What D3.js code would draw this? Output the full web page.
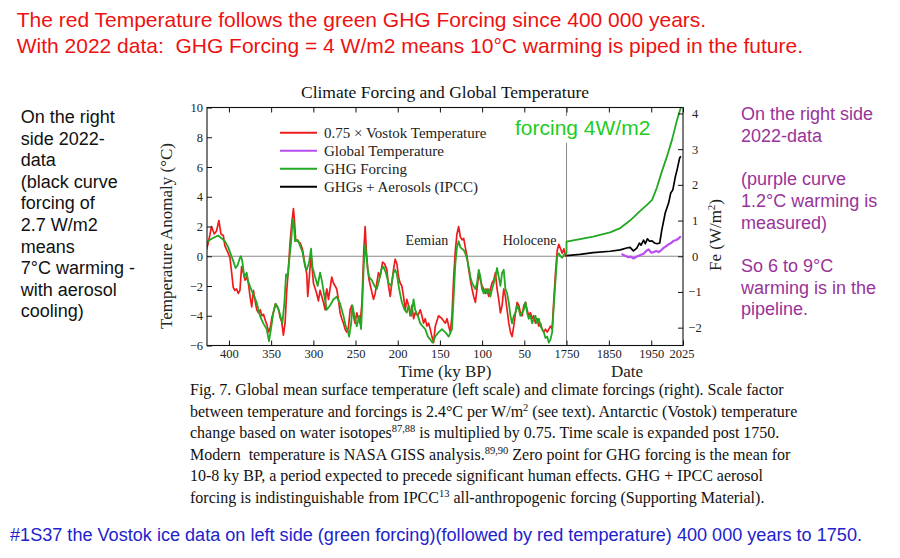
<!DOCTYPE html>
<html><head><meta charset="utf-8">
<script src="https://cdn.jsdelivr.net/npm/d3@7"></script>
<style>
body{margin:0;background:#fff}
svg{display:block}
text{white-space:pre}
</style>
</head><body>
<svg id="c" width="900" height="558"></svg>
<script>
// ---------- DATA ----------
// 0.75 x Vostok temperature: [ky BP, °C]
const vostokTemp = [[426.5,0.45],[424.5,0.9],[420.6,2.0],[417.4,1.5],[414.7,1.7],[411.9,2.4],[409.5,1.5],[406.7,1.4],[404.8,0.7],[401.6,0.3],
[398.8,-0.1],[396.8,-1.1],[394.9,-2.1],[392.9,-2.3],[390.9,-2.2],[388.9,-2.5],[387,-2.3],[385,-0.7],[383,-1.1],[381,-1.6],
[379,-1.4],[377,-1.8],[375,-2.7],[373,-3.4],[371,-2.3],[369,-3.0],[367,-3.6],[365,-3.8],[363,-3.6],[361,-4.0],
[359,-3.9],[357,-4.3],[355,-4.6],[353,-5.1],[351,-4.8],[349,-4.1],[347,-3.7],[345,-3.2],[343,-3.4],[341,-3.6],
[339.5,-4.1],[337.5,-4.4],[335.5,-5.3],[333.5,-4.5],[331.5,-2.3],[329.6,-0.9],[327.6,0.9],[325.6,2.2],[323.6,3.2],[322.5,2.5],
[320.9,1.1],[318.5,1.0],[315.7,0.9],[313,0.5],[310.6,-0.3],[307.8,-1.2],[306.6,-2.7],[305,-1.6],[302.7,0.1],[299.9,-1.8],
[296,-2.5],[294,-3.0],[292,-2.3],[290,-2.7],[288,-3.1],[286,-3.6],[285,-2.5],[284,-2.2],[282,-2.9],[278.2,-1.4],
[276.2,-1.8],[274.2,-2.0],[272.3,-2.2],[270.3,-2.9],[268.3,-3.8],[266.3,-4.2],[264.3,-4.5],[262.4,-4.9],[260.4,-5.1],[258.4,-4.8],
[256.4,-3.6],[254.4,-3.3],[252.5,-4.0],[250.5,-4.5],[248.5,-3.8],[246.5,-4.2],[244.6,-4.5],[242.6,-3.3],[241.8,-2.2],[240.2,0.4],
[238.6,2.0],[237,0.2],[235.5,-0.9],[233.9,-1.6],[231.5,-2.2],[228.7,-2.9],[226.7,-2.5],[224.8,-1.8],[222.8,-1.1],[220.8,-1.4],
[218,-0.4],[215.7,-0.5],[212.9,-0.9],[210.9,-2.0],[208.9,-2.7],[207,-1.8],[205,-0.9],[203,-0.2],[201,-0.5],[199,-1.4],
[197.1,-1.8],[195.1,-2.0],[193.1,-2.7],[191.1,-3.6],[189.2,-2.9],[187.2,-3.3],[185.2,-4.0],[183.2,-3.3],[181.2,-4.2],[179.3,-3.8],
[176.1,-4.0],[173.3,-3.6],[171.3,-4.0],[169.4,-4.5],[167.4,-4.2],[165.4,-4.7],[163.4,-4.5],[161.5,-4.9],[159.5,-5.4],[157.5,-5.8],
[155.5,-4.7],[151.6,-4.0],[147.6,-4.2],[143.6,-4.5],[141.6,-4.2],[139.6,-4.7],[137.7,-5.1],[135.7,-4.0],[133.7,-1.4],[131.7,0.4],
[129.8,1.5],[127.8,2.0],[125.8,1.3],[123.8,1.1],[121.8,1.2],[119.9,0.6],[117.9,0.0],[115.9,-0.9],[113.9,-1.6],[111.9,-2.2],
[110,-2.7],[108,-3.1],[106,-2.2],[104,-1.1],[102,-1.6],[100.1,-2.0],[98.1,-2.2],[96.1,-2.5],[94.1,-2.2],[92.2,-2.7],
[90.2,-2.2],[88.2,-1.8],[86.2,-1.6],[84.2,-1.1],[82.3,-2.2],[80.3,-2.9],[78.3,-3.8],[76.3,-3.3],[74.4,-2.2],[72.4,-2.7],
[70.4,-3.6],[68.4,-4.5],[66.4,-5.1],[64.5,-5.4],[62.5,-4.7],[60.5,-3.8],[58.5,-3.1],[56.5,-3.3],[54.6,-3.8],[52.6,-4.0],
[50.6,-3.3],[48.6,-3.1],[46.7,-3.6],[44.7,-4.0],[42.7,-3.8],[40.7,-4.2],[38.7,-4.0],[36.8,-4.5],[34.8,-4.2],[32.8,-4.7],
[30.8,-4.5],[28.9,-4.9],[26.9,-5.1],[24.9,-4.9],[22.9,-5.1],[20.9,-4.9],[19,-4.7],[17,-4.9],[15,-2.9],[13,-1.1],
[11,0.4],[9.1,0.8],[7.1,0.5],[5.1,0.2],[3.1,0.5],[1.2,0.0],[0,0.1]];

// GHG forcing, paleo part: [ky BP, W/m²]
const ghgPaleo = [[426.5,0.38],[422.6,0.46],[416.6,0.54],[412.7,0.58],[408.7,0.5],[404.8,0.42],[400.8,0.25],[397.6,0.04],[394.9,-0.13],[392.1,-0.33],
[389.7,-0.25],[387,-0.04],[385.8,0],[384.2,-0.13],[381.8,-0.58],[379,-0.46],[377.1,-0.71],[373.1,-0.96],[369.9,-1.13],[367.2,-1.29],
[363.2,-1.67],[359.3,-1.88],[355.3,-2.04],[352.5,-2.38],[350.2,-2.04],[347.4,-1.58],[344.6,-1.33],[342.2,-1.42],[339.5,-1.63],[336.7,-1.88],
[334.3,-1.29],[332.3,-0.5],[330.4,-0.58],[328.8,-0.17],[326.4,0.38],[324.4,1.04],[323.2,0.92],[321.7,0.42],[318.5,0.46],[315.7,0.29],
[313,0.13],[309.8,-0.29],[307.8,-0.38],[305,-0.17],[302.7,0.21],[301.1,-0.29],[297.9,-0.58],[294.8,-0.83],[292,-0.46],[290,-0.67],
[286.8,-1.13],[284.1,-1.5],[280.2,-1.38],[276.2,-1.21],[272.3,-1.13],[268.3,-1.33],[264.3,-1.67],[261.6,-1.96],[259.2,-2.08],[257.6,-2.25],
[255.2,-1.88],[253.7,-1.38],[251.3,-1.67],[248.5,-1.96],[245.7,-1.67],[243.4,-2.04],[241.8,-1.21],[240.2,-0.25],[238.6,0.33],[237,0],
[235.5,-0.38],[233.9,-0.58],[230.7,-0.67],[227.5,-0.83],[224.8,-0.92],[222,-0.67],[219.6,-0.38],[216.9,-0.29],[214.1,-0.46],[210.9,-0.75],
[207.8,-0.83],[205,-0.46],[203,-0.38],[201,-0.5],[198.3,-0.92],[195.1,-1.29],[191.9,-1.5],[189.2,-1.58],[187.2,-1.38],[184,-1.67],
[181.2,-1.21],[179.3,-1.5],[176.1,-1.67],[173.3,-1.88],[170.6,-1.96],[167.4,-2.04],[164.2,-2.25],[161.5,-2.33],[158.7,-2.42],[155.5,-2.25],
[151.6,-2.13],[147.6,-2.04],[143.6,-2.13],[139.6,-2.25],[135.7,-2.04],[133.7,-1.13],[131.7,-0.21],[129.8,0.25],[127.8,0.42],[125.8,0.25],
[123.8,0.21],[121.8,0.17],[119.9,0.08],[117.9,-0.08],[115.9,-0.29],[113.9,-0.58],[111.9,-0.75],[110,-0.83],[108,-0.92],[106,-0.75],
[104,-0.38],[102,-0.58],[100.1,-0.92],[98.1,-1.04],[96.1,-0.92],[94.1,-1.04],[92.2,-0.92],[90.2,-1.13],[88.2,-0.92],[86.2,-0.75],
[84.2,-0.58],[82.3,-0.33],[80.3,-0.58],[78.3,-0.83],[76.3,-0.46],[74.4,-0.38],[72.4,-0.92],[70.4,-1.04],[68.4,-1.29],[66.4,-1.67],
[64.5,-1.88],[62.5,-1.67],[60.5,-1.58],[58.5,-1.38],[56.5,-1.5],[54.6,-1.67],[52.6,-1.58],[50.6,-1.5],[48.6,-1.29],[46.7,-1.58],
[44.7,-1.75],[42.7,-1.67],[40.7,-1.88],[38.7,-1.75],[36.8,-1.67],[34.8,-1.88],[32.8,-1.75],[30.8,-1.96],[28.9,-2.04],[26.9,-2.13],
[24.9,-2.29],[22.9,-2.25],[20.9,-2.42],[19,-2.33],[17,-2.13],[15,-1.38],[13,-0.67],[11,0],[9.1,0.08],[7.1,0],
[5.1,-0.04],[3.1,0.04],[1.2,0.08],[0,0.1]];

// GHG forcing, modern part: [year, W/m²]
const ghgModern = [[1750,0.41],[1782,0.48],[1813,0.55],[1853,0.67],[1877,0.79],[1900,1.0],[1924,1.27],[1940,1.44],[1952,1.58],[1963,1.91],[1975,2.37],[1987,2.79],[1999,3.26],[2011,3.82],[2022,4.25]];

// GHGs + aerosols (IPCC): [year, W/m²]
const ghgAerosol = [[1750,0.02],[1782,0.05],[1813,0.1],[1853,0.14],[1877,0.18],[1892,0.23],[1900,0.25],[1908,0.15],[1916,0.23],[1922,0.37],[1926,0.31],[1932,0.45],[1936,0.35],[1941,0.49],[1946,0.42],[1952,0.43],[1958,0.37],[1964,0.35],[1970,0.37],[1975,0.74],[1983,1.21],[1991,1.49],[1996,1.77],[2001,1.86],[2007,2.23],[2011,2.42],[2017,2.75],[2020,2.8]];

// Global temperature (GISS): [year, °C]
const globalTemp = [[1880,0.15],[1888,0.03],[1896,-0.06],[1902,-0.03],[1908,-0.15],[1915,-0.03],[1920,0.03],[1926,0.1],[1932,0.17],[1938,0.35],[1944,0.46],[1950,0.24],[1956,0.28],[1962,0.35],[1968,0.28],[1974,0.42],[1980,0.58],[1986,0.69],[1991,0.8],[1996,0.87],[2002,1.02],[2009,1.09],[2014,1.18],[2018,1.3],[2020,1.25]];

// ticks
const kyTicks = [400,350,300,250,200,150,100,50];
const dateTicks = [1750,1850,1950,2025];
const tempTicks = [-6,-4,-2,0,2,4,6,8,10];
const forcingTicks = [-2,-1,0,1,2,3,4];
const scaleFactor = 2.4; // °C per W/m²

// text
const headLines = ["The red Temperature follows the green GHG Forcing since 400 000 years.",
  "With 2022 data:  GHG Forcing = 4 W/m2 means 10°C warming is piped in the future."];
const leftNote = ["On the right","side 2022-","data","(black curve","forcing of","2.7 W/m2","means","7°C warming -","with aerosol","cooling)"];
const rightNote = ["On the right side","2022-data","","(purple curve","1.2°C warming is","measured)","","So 6 to 9°C","warming is in the","pipeline."];
const legendItems = [["0.75 × Vostok Temperature","#ee1c1c"],["Global Temperature","#bb4ef0"],["GHG Forcing","#22a822"],["GHGs + Aerosols (IPCC)","#000000"]];
const caption = [
 [["Fig. 7. Global mean surface temperature (left scale) and climate forcings (right). Scale factor"]],
 [["between temperature and forcings is 2.4°C per W/m"],["2",1],[" (see text). Antarctic (Vostok) temperature"]],
 [["change based on water isotopes"],["87,88",1],[" is multiplied by 0.75. Time scale is expanded post 1750."]],
 [["Modern  temperature is NASA GISS analysis."],["89,90",1],[" Zero point for GHG forcing is the mean for"]],
 [["10-8 ky BP, a period expected to precede significant human effects. GHG + IPCC aerosol"]],
 [["forcing is indistinguishable from IPCC"],["13",1],[" all-anthropogenic forcing (Supporting Material)."]]
];
const footer = "#1S37 the Vostok ice data on left side (green forcing)(followed by red temperature) 400 000 years to 1750.";

// ---------- DRAW ----------
const SANS = "'Liberation Sans', Arial, sans-serif";
const SERIF = "'Liberation Serif', 'Times New Roman', serif";
const svg = d3.select("#c");
svg.append("rect").attr("width",900).attr("height",558).attr("fill","#fff");

const L = 207, R = 683, T = 107.5, B = 345.5, SPLIT = 566.5;
const xKy = d3.scaleLinear().domain([426,0]).range([L,SPLIT]);
const xDate = d3.scaleLinear().domain([1750,2025]).range([SPLIT,R]);
const yT = d3.scaleLinear().domain([-6,10]).range([B,T]);
const yF = d3.scaleLinear().domain([-6/scaleFactor,10/scaleFactor]).range([B,T]);

svg.append("defs").append("clipPath").attr("id","clip").append("rect")
  .attr("x",L).attr("y",T).attr("width",R-L).attr("height",B-T);

// headline
headLines.forEach((s,i)=>svg.append("text").attr("x",16.7).attr("y",27.3+i*26)
  .attr("font-family",SANS).attr("font-size",21).attr("fill","#ee1111").text(s));

// chart title
svg.append("text").attr("x",(L+R)/2).attr("y",98).attr("text-anchor","middle")
  .attr("font-family",SERIF).attr("font-size",17.5).attr("fill","#111").text("Climate Forcing and Global Temperature");

// zero and split reference lines
svg.append("line").attr("x1",L).attr("x2",R).attr("y1",yT(0)).attr("y2",yT(0)).attr("stroke","#8a8a8a").attr("stroke-width",1);
svg.append("line").attr("x1",SPLIT).attr("x2",SPLIT).attr("y1",T).attr("y2",B).attr("stroke","#8a8a8a").attr("stroke-width",1);

const plot = svg.append("g").attr("clip-path","url(#clip)");
const line = d3.line().x(d=>d[0]).y(d=>d[1]);

const redPts = vostokTemp.map(d=>[xKy(d[0]),yT(d[1])]);
const greenPts = ghgPaleo.map(d=>[xKy(d[0]),yF(d[1])]).concat(ghgModern.map(d=>[xDate(d[0]),yF(d[1])]));
const blackPts = ghgAerosol.map(d=>[xDate(d[0]),yF(d[1])]);
const purplePts = globalTemp.map(d=>[xDate(d[0]),yT(d[1])]);

plot.append("path").attr("d",line(redPts)).attr("fill","none").attr("stroke",legendItems[0][1]).attr("stroke-width",1.7).attr("stroke-linejoin","round");
plot.append("path").attr("d",line(greenPts)).attr("fill","none").attr("stroke",legendItems[2][1]).attr("stroke-width",1.8).attr("stroke-linejoin","round");
plot.append("path").attr("d",line(blackPts)).attr("fill","none").attr("stroke",legendItems[3][1]).attr("stroke-width",1.7).attr("stroke-linejoin","round");
plot.append("path").attr("d",line(purplePts)).attr("fill","none").attr("stroke",legendItems[1][1]).attr("stroke-width",2.2).attr("stroke-linejoin","round");

// frame
svg.append("rect").attr("x",L).attr("y",T).attr("width",R-L).attr("height",B-T).attr("fill","none").attr("stroke","#111").attr("stroke-width",1.1);

// axes
function styleAxis(g){
  g.select(".domain").remove();
  g.selectAll("line").attr("stroke","#111");
  g.selectAll("text").attr("font-family",SERIF).attr("font-size",12.5).attr("fill","#222");
}
svg.append("g").attr("transform",`translate(0,${B})`)
  .call(d3.axisBottom(xKy).tickValues(kyTicks).tickSize(-5).tickPadding(4)).call(styleAxis);
svg.append("g").attr("transform",`translate(0,${B})`)
  .call(d3.axisBottom(xDate).tickValues(dateTicks).tickFormat(d3.format("d")).tickSize(-5).tickPadding(4)).call(styleAxis)
  .selectAll(".tick").filter(d=>d===2025).select("text").attr("x",-1.5);
svg.append("g").attr("transform",`translate(0,${T})`)
  .call(d3.axisTop(xKy).tickValues(kyTicks).tickSize(-5).tickFormat("")).call(styleAxis);
svg.append("g").attr("transform",`translate(0,${T})`)
  .call(d3.axisTop(xDate).tickValues(dateTicks).tickSize(-5).tickFormat("")).call(styleAxis);
svg.append("g").attr("transform",`translate(${L},0)`)
  .call(d3.axisLeft(yT).tickValues(tempTicks).tickSize(-5).tickPadding(4)).call(styleAxis);
const ra = svg.append("g").attr("transform",`translate(${R},0)`)
  .call(d3.axisRight(yF).tickValues(forcingTicks).tickFormat(d3.format("d")).tickSize(-5).tickPadding(12)).call(styleAxis);
ra.selectAll("text").attr("text-anchor","middle");

// axis titles
svg.append("text").attr("transform",`translate(172,236) rotate(-90)`).attr("text-anchor","middle")
  .attr("font-family",SERIF).attr("font-size",17).attr("fill","#222").text("Temperature Anomaly (°C)");
const fe = svg.append("text").attr("transform",`translate(721,235) rotate(-90)`).attr("text-anchor","middle")
  .attr("font-family",SERIF).attr("font-size",17).attr("fill","#222");
fe.append("tspan").text("Fe (W/m");
fe.append("tspan").attr("font-size",11).attr("dy",-6).text("2");
fe.append("tspan").attr("dy",6).text(")");
svg.append("text").attr("x",(xKy(200)+xKy(100))/2+5).attr("y",376.5).attr("text-anchor","middle")
  .attr("font-family",SERIF).attr("font-size",17).attr("fill","#222").text("Time (ky BP)");
svg.append("text").attr("x",(xDate(1850)+xDate(1950))/2-3).attr("y",376.5).attr("text-anchor","middle")
  .attr("font-family",SERIF).attr("font-size",17).attr("fill","#222").text("Date");

// period labels
svg.append("text").attr("x",xKy(140)).attr("y",yT(0)-11).attr("text-anchor","end")
  .attr("font-family",SERIF).attr("font-size",14).attr("fill","#222").text("Eemian");
svg.append("text").attr("x",xKy(12)).attr("y",yT(0)-11).attr("text-anchor","end")
  .attr("font-family",SERIF).attr("font-size",14).attr("fill","#222").text("Holocene");

// legend
const lg = svg.append("g");
legendItems.forEach((d,i)=>{
  const y = 132.7 + i*18;
  lg.append("line").attr("x1",280).attr("x2",317).attr("y1",y).attr("y2",y).attr("stroke",d[1]).attr("stroke-width",2);
  lg.append("text").attr("x",324).attr("y",y+5).attr("font-family",SERIF).attr("font-size",15).attr("fill","#222").text(d[0]);
});

// forcing annotation with white backing
const ann = svg.append("text").attr("x",515).attr("y",135).attr("font-family",SANS).attr("font-size",21)
  .attr("fill","#22cc22").text("forcing 4W/m2");
const bb = ann.node().getBBox();
svg.insert("rect", function(){return ann.node();}).attr("x",bb.x-3).attr("y",bb.y).attr("width",bb.width+6).attr("height",143-bb.y).attr("fill","#fff");

// side notes
leftNote.forEach((s,i)=>svg.append("text").attr("x",20.7).attr("y",123+i*21.6)
  .attr("font-family",SANS).attr("font-size",18).attr("fill","#111").text(s));
rightNote.forEach((s,i)=>{ if(!s) return; svg.append("text").attr("x",741).attr("y",120+i*21.7)
  .attr("font-family",SANS).attr("font-size",18).attr("fill","#993399").text(s);});

// caption
caption.forEach((segs,i)=>{
  const t = svg.append("text").attr("x",190).attr("y",395+i*21.5).attr("font-family",SERIF).attr("font-size",16).attr("fill","#111");
  let up = false;
  segs.forEach(s=>{
    const sp = t.append("tspan").text(s[0]);
    if(s[1]){ sp.attr("font-size",10.5).attr("dy",-6); up = true; }
    else if(up){ sp.attr("dy",6); up = false; }
  });
});

// footer
svg.append("text").attr("x",10).attr("y",541).attr("font-family",SANS).attr("font-size",18)
  .attr("textLength",852).attr("lengthAdjust","spacingAndGlyphs").attr("fill","#2222cc").text(footer);
</script>
</body></html>
